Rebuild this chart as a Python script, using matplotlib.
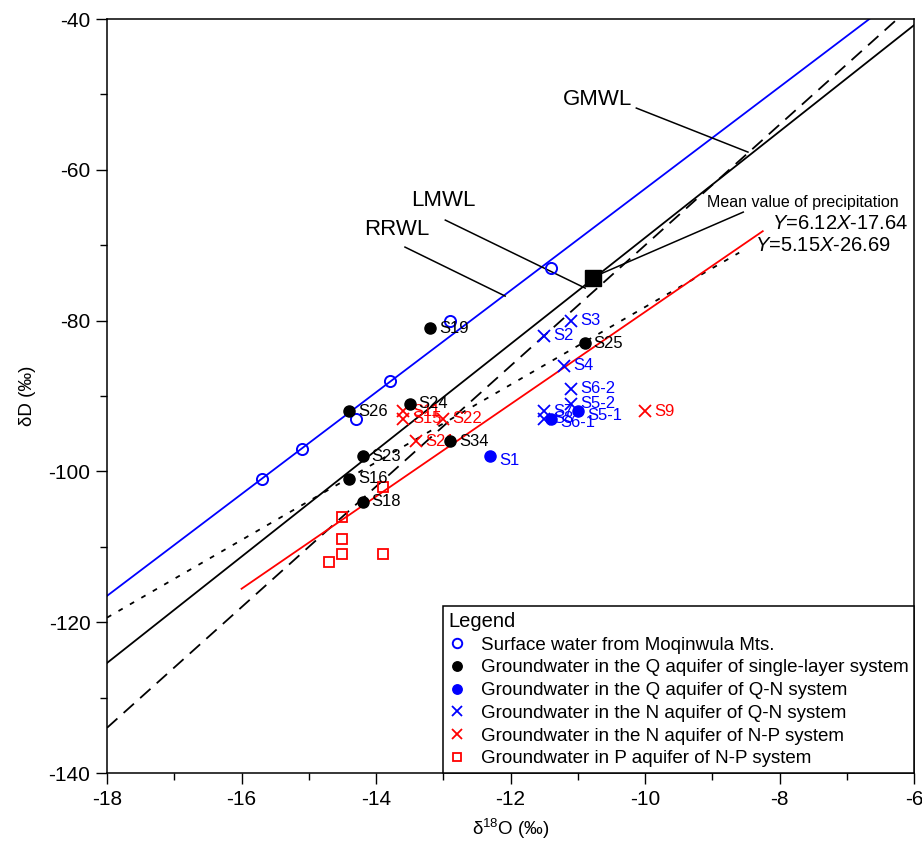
import numpy as np
import matplotlib
matplotlib.use("Agg")
import matplotlib.pyplot as plt
from matplotlib.ticker import MultipleLocator

plt.rcParams["font.family"] = ["Liberation Sans", "DejaVu Sans"]
plt.rcParams["mathtext.fontset"] = "custom"
plt.rcParams["mathtext.rm"] = "Liberation Sans"
plt.rcParams["mathtext.it"] = "Liberation Sans:italic"
plt.rcParams["lines.scale_dashes"] = False
plt.rcParams["axes.unicode_minus"] = False

# ---- data ----
surface_x = [-15.7, -15.1, -14.3, -13.8, -12.9, -11.4]
surface_y = [-101, -97, -93, -88, -80, -73]

q_single_names = ["S19", "S24", "S26", "S34", "S23", "S16", "S18", "S25"]
q_single_x = [-13.2, -13.5, -14.4, -12.9, -14.2, -14.4, -14.2, -10.9]
q_single_y = [-81, -91, -92, -96, -98, -101, -104, -83]

qn_q_names = ["S1", "S5-1", "S6-1"]
qn_q_x = [-12.3, -11.0, -11.4]
qn_q_y = [-98, -92, -93]

qn_n_names = ["S3", "S2", "S4", "S6-2", "S5-2", "S7", "S8"]
qn_n_x = [-11.1, -11.5, -11.2, -11.1, -11.1, -11.5, -11.5]
qn_n_y = [-80, -82, -86, -89, -91, -92, -93]

np_n_names = ["S9", "S11", "S15", "S22", "S21"]
np_n_x = [-10.0, -13.6, -13.6, -13.0, -13.4]
np_n_y = [-92, -92, -93, -93, -96]

np_p_x = [-13.9, -14.5, -14.5, -14.5, -13.9, -14.7]
np_p_y = [-102, -106, -109, -111, -111, -112]

precip_mean = (-10.77, -74.4)

# water lines: slope, intercept, x start, x end
rrwl = (6.75, 5.0, -18.0, -6.66)
lmwl = (7.05, 1.5, -18.0, -6.0)
gmwl = (8.0, 10.0, -18.0, -6.25)
fit_np = (6.12, -17.64, -16.0, -8.25)
fit_qn = (5.15, -26.69, -18.0, -8.6)


def line_xy(params):
    k, b, x0, x1 = params
    xs = np.array([x0, x1])
    return xs, k * xs + b


fig = plt.figure(figsize=(9.22, 8.49), dpi=100)
ax = fig.add_axes([0.1161, 0.0895, 0.8753, 0.888])

xs, ys = line_xy(rrwl)
ax.plot(xs, ys, color="#0000ff", lw=1.3, zorder=2)
xs, ys = line_xy(lmwl)
ax.plot(xs, ys, color="black", lw=1.3, zorder=2)
xs, ys = line_xy(gmwl)
ax.plot(xs, ys, color="black", lw=1.3, dashes=(10, 6), zorder=2)
xs, ys = line_xy(fit_qn)
ax.plot(xs, ys, color="black", lw=1.3, dashes=(3.5, 6), zorder=2)
xs, ys = line_xy(fit_np)
ax.plot(xs, ys, color="#ff0000", lw=1.3, zorder=2)

# leader lines and line names
lead_kw = dict(color="black", lw=1.1, zorder=2)
ax.plot([-10.13, -8.47], [-51.8, -57.64], **lead_kw)
ax.plot([-12.97, -10.89], [-66.66, -75.68], **lead_kw)
ax.plot([-13.57, -12.08], [-70.24, -76.74], **lead_kw)
ax.plot([-10.70, -8.54], [-73.95, -65.6], **lead_kw)
ax.text(-10.70, -50.7, "GMWL", fontsize=16, ha="center", va="center")
ax.text(-13.0, -64.0, "LMWL", fontsize=16, ha="center", va="center")
ax.text(-13.69, -67.85, "RRWL", fontsize=16, ha="center", va="center")
ax.text(-9.08, -64.27, "Mean value of precipitation", fontsize=11.5, ha="left", va="center")
ax.text(-8.11, -67.1, r"$\it{Y}$=6.12$\it{X}$-17.64", fontsize=14.5, ha="left", va="center")
ax.text(-8.36, -70.0, r"$\it{Y}$=5.15$\it{X}$-26.69", fontsize=14.5, ha="left", va="center")

lab_kw = dict(textcoords="offset points", xytext=(6.5, 0), ha="left", va="center", fontsize=12)

# N-P system, N aquifer
h_np_n, = ax.plot(np_n_x, np_n_y, ls="none", marker="x", ms=8.5, mew=1.3, color="#ff0000", zorder=3,
                  label="Groundwater in the N aquifer of N-P system")
for n, x, y in zip(np_n_names, np_n_x, np_n_y):
    ax.annotate(n, (x, y), color="#ff0000", zorder=3, **lab_kw)

h_np_p, = ax.plot(np_p_x, np_p_y, ls="none", marker="s", ms=7, mew=1.3, mfc="none", color="#ff0000", zorder=3,
                  label="Groundwater in P aquifer of N-P system")

# Q-N system, N aquifer
h_qn_n, = ax.plot(qn_n_x, qn_n_y, ls="none", marker="x", ms=8.5, mew=1.3, color="#0000ff", zorder=3,
                  label="Groundwater in the N aquifer of Q-N system")
for n, x, y in zip(qn_n_names, qn_n_x, qn_n_y):
    ax.annotate(n, (x, y), color="#0000ff", zorder=3, **lab_kw)

# Q-N system, Q aquifer
h_qn_q, = ax.plot(qn_q_x, qn_q_y, ls="none", marker="o", ms=8, color="#0000ff", zorder=4,
                  label="Groundwater in the Q aquifer of Q-N system")
for n, x, y in zip(qn_q_names, qn_q_x, qn_q_y):
    ax.annotate(n, (x, y), color="#0000ff", zorder=4,
                **{**lab_kw, "xytext": (6.5, -3)})

h_surf, = ax.plot(surface_x, surface_y, ls="none", marker="o", ms=8, mew=1.4, mfc="none", color="#0000ff", zorder=4,
                  label="Surface water from Moqinwula Mts.")

# single-layer system
h_qs, = ax.plot(q_single_x, q_single_y, ls="none", marker="o", ms=8, color="black", zorder=5,
                label="Groundwater in the Q aquifer of single-layer system")
for n, x, y in zip(q_single_names, q_single_x, q_single_y):
    ax.annotate(n, (x, y), color="black", zorder=5, **lab_kw)

ax.plot([precip_mean[0]], [precip_mean[1]], ls="none", marker="s", ms=11, color="black", zorder=5)

ax.set_xlim(-18, -6)
ax.set_ylim(-140, -40)
ax.xaxis.set_major_locator(MultipleLocator(2))
ax.xaxis.set_minor_locator(MultipleLocator(1))
ax.yaxis.set_major_locator(MultipleLocator(20))
ax.yaxis.set_minor_locator(MultipleLocator(10))
ax.tick_params(which="both", direction="out", top=False, right=False, width=1, labelsize=15)
ax.tick_params(which="major", length=8, pad=4)
ax.tick_params(which="minor", length=5)
for s in ax.spines.values():
    s.set_linewidth(1.1)

ax.set_xlabel("δ$^{18}$O (‰)", fontsize=13.5, labelpad=6)
ax.set_ylabel("δD (‰)", fontsize=13.5)
ax.yaxis.set_label_coords(-0.088, 0.5)

leg = ax.legend(handles=[h_surf, h_qs, h_qn_q, h_qn_n, h_np_n, h_np_p],
                loc="lower right", borderaxespad=0, frameon=True, fancybox=False,
                edgecolor="black", framealpha=1, fontsize=13.5, title="Legend",
                title_fontsize=14.5, alignment="left", handlelength=0.9,
                handletextpad=0.8, borderpad=0.3, labelspacing=0.3, markerscale=0.85)
leg.get_frame().set_linewidth(1.1)
leg.set_zorder(10)

fig.savefig("out.png", dpi=100)
